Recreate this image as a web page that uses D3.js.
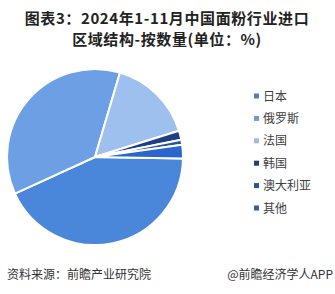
<!DOCTYPE html>
<html><head><meta charset="utf-8">
<script src="https://cdn.jsdelivr.net/npm/d3@7"></script>
<style>body{margin:0;background:#fff}svg{display:block}</style>
</head><body>
<svg id="c" width="335" height="294"></svg>
<script>
const categories = ["日本","俄罗斯","法国","韩国","澳大利亚","其他"];
const values = [42.9, 36.4, 15.6, 1.7, 0.9, 2.5];
const colors = ["#4a86da","#6c9fe3","#9dc0ef","#1e3f86","#2353a4","#2a66cc"];
const legendColors = ["#4f7fc0","#7299cf","#9fbbe0","#1f3f7a","#2a5298","#2f5fa8"];
const titleLines = ["图表3：2024年1-11月中国面粉行业进口","区域结构-按数量(单位：%)"];

const svg = d3.select("#c");
const font = "'Noto Sans CJK SC','Noto Sans',sans-serif";

svg.selectAll("text.title").data(titleLines).enter().append("text")
  .attr("class","title")
  .attr("x", 167).attr("y", (d,i)=>24+i*21)
  .attr("text-anchor","middle")
  .style("font-family", font).style("font-weight","bold").style("font-size","15px")
  .style("letter-spacing","0.6px")
  .attr("fill","#222").text(d=>d);

const cx = 95, cy = 157, r = 88;
const pie = d3.pie().sort(null).value(d=>d)
  .startAngle(91*Math.PI/180).endAngle(91*Math.PI/180 + 2*Math.PI);
const arc = d3.arc().innerRadius(0).outerRadius(r);
const g = svg.append("g").attr("transform",`translate(${cx},${cy})`);
g.selectAll("path").data(pie(values)).enter().append("path")
  .attr("d", arc).attr("fill",(d,i)=>colors[i])
  .attr("stroke","#fff").attr("stroke-width",2).attr("stroke-linejoin","round");

const ly = d3.scalePoint().domain(categories).range([96, 208]);
const lg = svg.append("g");
lg.selectAll("rect").data(categories).enter().append("rect")
  .attr("x", 254).attr("y", d=>ly(d)-2.5).attr("width",5).attr("height",5)
  .attr("fill",(d,i)=>legendColors[i]);
lg.selectAll("text").data(categories).enter().append("text")
  .attr("x", 263).attr("y", d=>ly(d)+4.5)
  .style("font-family", font).style("font-size","12px").attr("fill","#404040")
  .text(d=>d);

svg.append("text").attr("x",7).attr("y",279)
  .style("font-family", font).style("font-size","12px").attr("fill","#333")
  .text("资料来源：前瞻产业研究院");
svg.append("text").attr("x",333).attr("y",279).attr("text-anchor","end")
  .style("font-family", font).style("font-size","12px").attr("fill","#333")
  .text("@前瞻经济学人APP");
</script>
</body></html>
